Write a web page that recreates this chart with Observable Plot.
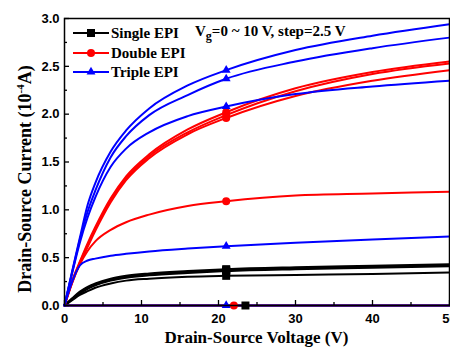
<!DOCTYPE html>
<html><head><meta charset="utf-8">
<script src="https://cdn.jsdelivr.net/npm/d3@7"></script>
<script src="https://cdn.jsdelivr.net/npm/@observablehq/plot@0.6"></script>
<style>body{margin:0;background:#fff}#chart{width:450px;height:356px}</style>
</head><body><div id="chart"></div>
<script>
// Drain-source voltage sample points (V)
const vds = [0, 1, 2, 3, 4, 6, 8, 11, 16, 21, 30, 40, 50];
const gateLabels = ["0", "2.5", "5", "7.5", "10"];
const seriesNames = ["Single EPI", "Double EPI", "Triple EPI"];
const seriesColors = ["#000000", "#ff0000", "#0000ff"];
const seriesSymbols = ["square", "circle", "triangle"];
const seriesSymbolR = [4.5, 4, 3.3];

// Drain-source current (1e-4 A)
const singleVg0  = [0, 0, 0, 0, 0, 0, 0, 0, 0, 0, 0, 0, 0];
const singleVg25 = [0, 0.055, 0.11, 0.15, 0.185, 0.23, 0.26, 0.28, 0.30, 0.31, 0.32, 0.33, 0.345];
const singleVg5  = [0, 0.065, 0.125, 0.175, 0.21, 0.26, 0.29, 0.315, 0.34, 0.36, 0.38, 0.395, 0.41];
const singleVg75 = [0, 0.07, 0.135, 0.185, 0.22, 0.27, 0.30, 0.325, 0.35, 0.37, 0.39, 0.405, 0.42];
const singleVg10 = [0, 0.075, 0.145, 0.195, 0.23, 0.28, 0.31, 0.335, 0.36, 0.38, 0.40, 0.415, 0.43];

const doubleVg0  = [0, 0, 0, 0, 0, 0, 0, 0, 0, 0, 0, 0, 0];
const doubleVg25 = [0, 0.24, 0.43, 0.57, 0.67, 0.79, 0.87, 0.95, 1.04, 1.09, 1.15, 1.17, 1.19];
const doubleVg5  = [0, 0.24, 0.44, 0.61, 0.78, 1.08, 1.31, 1.54, 1.79, 1.96, 2.19, 2.35, 2.46];
const doubleVg75 = [0, 0.25, 0.45, 0.63, 0.80, 1.10, 1.33, 1.56, 1.81, 1.99, 2.24, 2.42, 2.53];
const doubleVg10 = [0, 0.26, 0.46, 0.65, 0.82, 1.12, 1.35, 1.58, 1.84, 2.02, 2.27, 2.44, 2.55];

const tripleVg0  = [0, 0, 0, 0, 0, 0, 0, 0, 0, 0, 0, 0, 0];
const tripleVg25 = [0, 0.25, 0.42, 0.47, 0.49, 0.52, 0.54, 0.565, 0.595, 0.62, 0.655, 0.69, 0.72];
const tripleVg5  = [0, 0.34, 0.66, 0.92, 1.13, 1.45, 1.64, 1.81, 1.98, 2.08, 2.21, 2.29, 2.35];
const tripleVg75 = [0, 0.35, 0.69, 0.98, 1.20, 1.55, 1.77, 1.99, 2.20, 2.37, 2.55, 2.69, 2.80];
const tripleVg10 = [0, 0.36, 0.71, 1.05, 1.28, 1.61, 1.83, 2.06, 2.30, 2.46, 2.67, 2.82, 2.94];

// Marker positions (V): one marker per curve
const markerVds = 21;
const zeroMarkerVds = [23.5, 22, 21];

const xTicks = [0, 10, 20, 30, 40, 50];
const xMinorTicks = [5, 15, 25, 35, 45];
const yTicks = [0, 0.5, 1.0, 1.5, 2.0, 2.5, 3.0];
const yMinorTicks = [0.25, 0.75, 1.25, 1.75, 2.25, 2.75];

const curves = [
  [singleVg0, singleVg25, singleVg5, singleVg75, singleVg10],
  [doubleVg0, doubleVg25, doubleVg5, doubleVg75, doubleVg10],
  [tripleVg0, tripleVg25, tripleVg5, tripleVg75, tripleVg10]
];

const W = 450, H = 356, mL = 64, mR = 1, mT = 18, mB = 51;
const plotW = W - mL - mR, plotH = H - mT - mB;
const serif = "'Liberation Serif', 'Times New Roman', serif";
const sans = "'Liberation Sans', Arial, sans-serif";

const lineMarks = [], dotMarks = [];
curves.forEach((set, s) => {
  const rows = [];
  const marks = [];
  set.forEach((arr, g) => {
    arr.forEach((v, i) => rows.push({key: `${s}-${g}`, vds: vds[i], ids: v}));
    if (g === 0) marks.push({vds: zeroMarkerVds[s], ids: 0});
    else marks.push({vds: markerVds, ids: arr[vds.indexOf(markerVds)]});
  });
  lineMarks.push(Plot.line(rows, {x: "vds", y: "ids", z: "key", stroke: seriesColors[s], strokeWidth: 2, curve: "monotone-x"}));
  dotMarks.push(Plot.dot(marks, {x: "vds", y: "ids", symbol: seriesSymbols[s], fill: seriesColors[s], stroke: "none", r: seriesSymbolR[s]}));
});

const plot = Plot.plot({
  width: W, height: H,
  marginLeft: mL, marginRight: mR, marginTop: mT, marginBottom: mB,
  style: {background: "#fff", fontFamily: sans, overflow: "visible"},
  x: {domain: [0, 50]},
  y: {domain: [0, 3]},
  marks: [
    ...lineMarks,
    ...dotMarks,
    Plot.tickY(yTicks, {y: d => d, insetRight: plotW - 5, stroke: "#000", strokeWidth: 1.3}),
    Plot.tickY(yMinorTicks, {y: d => d, insetRight: plotW - 3, stroke: "#000", strokeWidth: 1.3}),
    Plot.tickX(xTicks, {x: d => d, insetTop: plotH - 5, stroke: "#000", strokeWidth: 1.3}),
    Plot.tickX(xMinorTicks, {x: d => d, insetTop: plotH - 3, stroke: "#000", strokeWidth: 1.3}),
    Plot.frame({stroke: "#000", strokeWidth: 1.5}),
    Plot.axisX({ticks: xTicks, tickSize: 0, tickPadding: 8, tickFormat: d => String(d), label: null, fontSize: 13, fontWeight: "bold", fill: "#000"}),
    Plot.axisY({ticks: yTicks, tickSize: 0, tickPadding: 5, tickFormat: d3.format(".1f"), label: null, fontSize: 13, fontWeight: "bold", fill: "#000"})
  ]
});
document.getElementById("chart").appendChild(plot);

const svg = d3.select(plot);
// Legend
const leg = svg.append("g").attr("text-anchor", "start");
const legY = [33, 53, 72];
seriesNames.forEach((name, s) => {
  const y = legY[s];
  leg.append("line").attr("x1", 73).attr("x2", 109).attr("y1", y).attr("y2", y)
    .attr("stroke", seriesColors[s]).attr("stroke-width", 2);
  const sym = {square: d3.symbolSquare, circle: d3.symbolCircle, triangle: d3.symbolTriangle}[seriesSymbols[s]];
  leg.append("path").attr("d", d3.symbol(sym, Math.PI * seriesSymbolR[s] ** 2)())
    .attr("transform", `translate(91,${y})`).attr("fill", seriesColors[s]);
  leg.append("text").attr("x", 111).attr("y", y + 5).attr("text-anchor", "start").text(name)
    .attr("font-family", serif).attr("font-weight", "bold").attr("font-size", 15).attr("fill", "#000");
});
// Annotation
const ann = svg.append("text").attr("x", 195).attr("y", 36).attr("text-anchor", "start")
  .attr("font-family", serif).attr("font-weight", "bold").attr("font-size", 15).attr("fill", "#000");
ann.append("tspan").text("V");
ann.append("tspan").attr("dy", 4).attr("font-size", 12).text("g");
ann.append("tspan").attr("dy", -4).text(`=${gateLabels[0]} ~ ${gateLabels[4]} V, step=${gateLabels[1]} V`);
// Axis titles
svg.append("text").attr("x", mL + plotW / 2).attr("y", 343).attr("text-anchor", "middle")
  .attr("font-family", serif).attr("font-weight", "bold").attr("font-size", 17).attr("fill", "#000")
  .text("Drain-Source Voltage (V)");
const yl = svg.append("text").attr("transform", "translate(31,179) rotate(-90)").attr("text-anchor", "middle")
  .attr("font-family", serif).attr("font-weight", "bold").attr("font-size", 18).attr("fill", "#000");
yl.append("tspan").text("Drain-Source Current (10");
yl.append("tspan").attr("dy", -7).attr("font-size", 11).text("-4");
yl.append("tspan").attr("dy", 7).text("A)");
</script></body></html>
